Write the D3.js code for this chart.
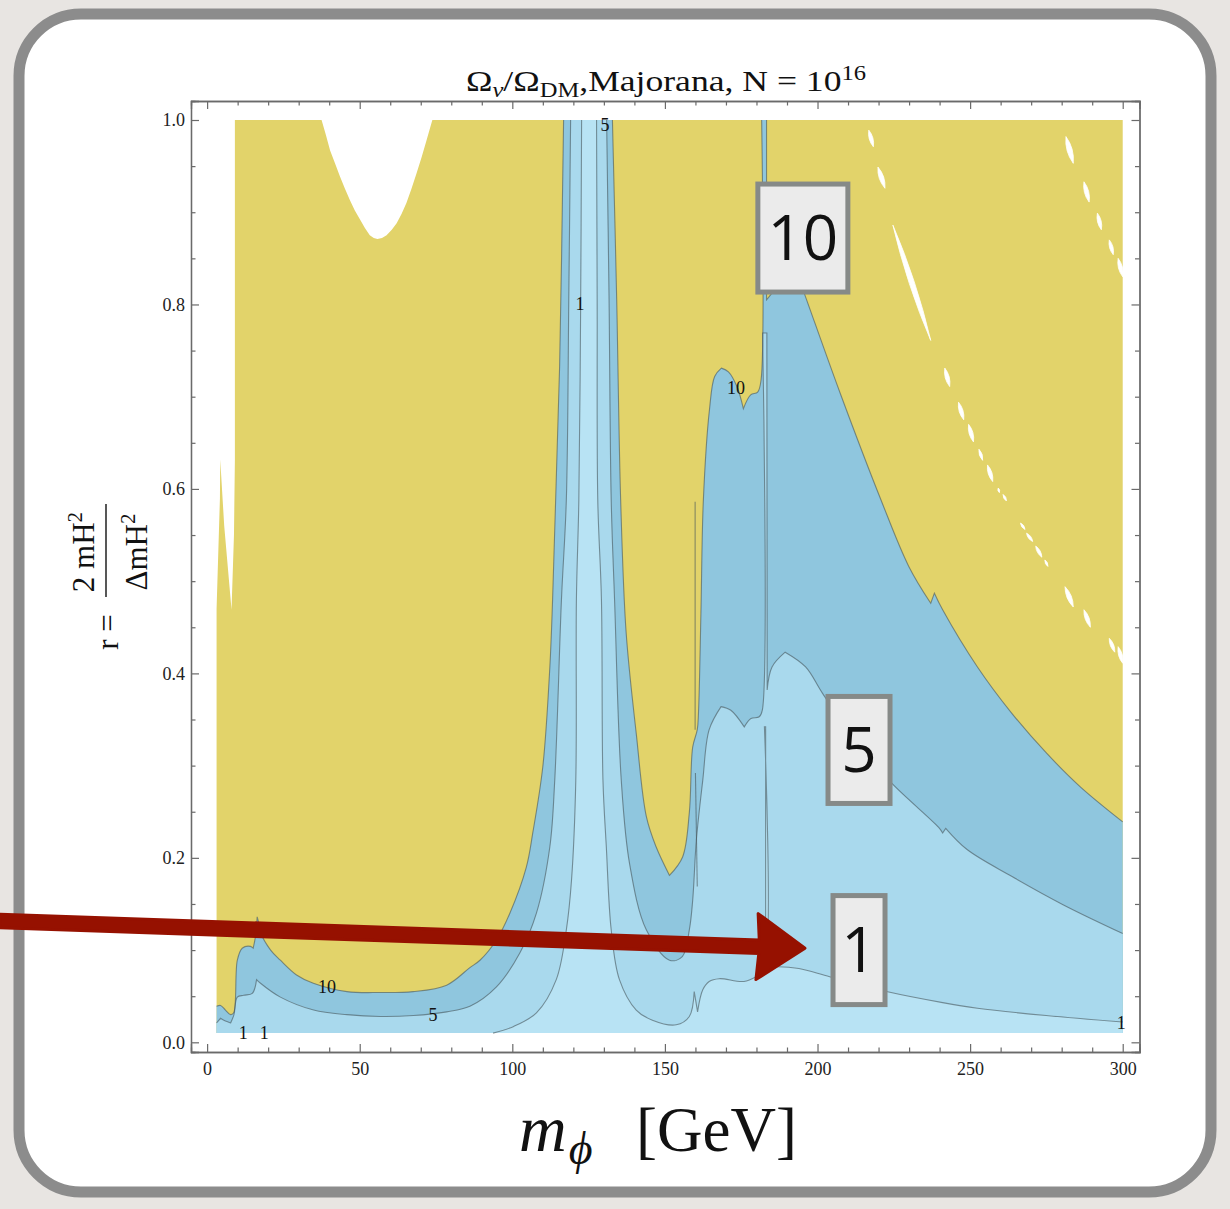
<!DOCTYPE html>
<html><head><meta charset="utf-8">
<script src="https://cdn.jsdelivr.net/npm/d3@7"></script>
<style>html,body{margin:0;padding:0;background:#e7e4e1;} svg{display:block}</style>
</head><body>
<svg id="chart" width="1230" height="1209"></svg>
<script>
// ---------------- data (m_phi in GeV, r) ----------------
const xTicks = [0, 50, 100, 150, 200, 250, 300];
const yTicks = [0.0, 0.2, 0.4, 0.6, 0.8, 1.0];
const xMinorTicks = d3.range(0, 301, 10);
const yMinorTicks = d3.range(0, 1.0001, 0.05);
const domainX = [3.1, 300];
const domainR = [0.01, 1.0];

// region where the ratio is defined (filled yellow = above 10)
const definedRegion = [[3.1,0.01],[3.1,0.47],[4.2,0.59],[4.3,0.632],[5.6,0.56],[8.0,0.469],[8.8,0.55],[9.1,0.632],[9.1,1.0],
  [37.5,1.0],[38.9,0.984],[40.3,0.967],[41.9,0.953],[43.5,0.939],[45.1,0.926],[46.8,0.913],[48.4,0.902],[50.1,0.892],[51.7,0.883],
  [53.3,0.875],[54.6,0.872],[55.8,0.871],[57.3,0.872],[58.8,0.875],[60.5,0.881],[62.1,0.888],[63.7,0.898],[65.3,0.910],[66.9,0.925],
  [68.6,0.942],[70.3,0.960],[71.9,0.978],[73.8,1.0],[300,1.0],[300,0.01]];

// contour Ω/Ω_DM = 10
const contour10 = [[3.1,0.039],[4.4,0.040],[6.0,0.035],[7.7,0.030],[8.7,0.032],[9.9,0.089],[11.5,0.102],[14.2,0.104],[15.1,0.102],
  [15.9,0.116],[16.4,0.136],[16.8,0.131],[17.5,0.119],[20.8,0.100],[24.0,0.089],[29.3,0.073],[34.8,0.064],[45.8,0.055],[56.7,0.054],
  [67.5,0.055],[78.5,0.062],[86.1,0.081],[89.4,0.089],[94.8,0.111],[99.2,0.140],[104.6,0.190],[106.7,0.227],[110.0,0.299],
  [112.3,0.407],[113.2,0.480],[114.2,0.588],[115.5,0.733],[116.8,1.0],
  [132.8,1.0],[134.2,0.805],[135.5,0.588],[137.3,0.444],[140.6,0.335],[143.9,0.245],[147.1,0.212],[151.5,0.181],[155.8,0.201],
  [158.0,0.249],[159.1,0.320],[160.6,0.339],[161.0,0.357],[161.8,0.465],[162.6,0.588],[164.6,0.686],[166.3,0.722],[168.5,0.731],
  [170.8,0.727],[173.6,0.711],[175.7,0.687],[178.1,0.702],[180.4,0.705],[181.5,0.718],[181.7,1.0],[183.3,1.0],[183.3,0.805],
  [185.8,0.816],[190.0,0.846],[194.0,0.827],[196.1,0.808],[207.4,0.704],[220.8,0.588],[229.9,0.516],[237.1,0.476],[238.3,0.487],
  [241.0,0.469],[252.4,0.407],[263.6,0.357],[274.9,0.314],[286.1,0.277],[300,0.239]];

// contour Ω/Ω_DM = 5
const contour5 = [[3.1,0.021],[4.4,0.026],[6.0,0.023],[7.7,0.021],[8.8,0.030],[9.9,0.049],[12.0,0.051],[14.8,0.053],[16.2,0.068],
  [17.5,0.064],[24.0,0.049],[34.9,0.035],[45.8,0.030],[56.7,0.028],[67.6,0.029],[78.5,0.033],[86.1,0.039],[94.8,0.060],[102.5,0.097],
  [107.9,0.140],[112.3,0.212],[113.9,0.284],[116.1,0.480],[117.7,0.588],[118.5,0.805],[119.1,1.0],
  [130.9,1.0],[131.7,0.805],[132.4,0.588],[133.5,0.480],[135.7,0.284],[138.4,0.194],[143.9,0.122],[151.5,0.089],[155.7,0.093],
  [158.0,0.122],[159.1,0.154],[160.3,0.219],[162.4,0.284],[164.5,0.339],[168.4,0.364],[171.6,0.360],[176.0,0.342],[178.2,0.351],
  [180.9,0.353],[181.9,0.360],[182.0,0.769],[183.4,0.769],[183.5,0.382],[185.1,0.407],[189.4,0.423],[196.1,0.407],[201.7,0.378],
  [213.6,0.322],[224.3,0.281],[239.7,0.233],[241.0,0.227],[242.0,0.232],[249.0,0.209],[263.6,0.180],[280.6,0.149],[300,0.118]];

// contour Ω/Ω_DM = 1
const contour1 = [[93.7,0.01],[100.3,0.017],[107.9,0.032],[114.4,0.068],[117.7,0.122],[119.4,0.176],[120.8,0.284],[121.0,0.480],
  [121.8,0.588],[122.4,0.805],[122.7,1.0],
  [127.6,1.0],[127.8,0.805],[128.0,0.588],[129.2,0.480],[129.7,0.284],[130.8,0.212],[132.4,0.122],[135.1,0.068],[140.6,0.035],
  [145.9,0.024],[153.7,0.019],[158.0,0.028],[159.6,0.055],[160.7,0.033],[162.4,0.057],[164.5,0.066],[167.8,0.069],[175.9,0.066],
  [180.9,0.073],[182.5,0.076],[182.6,0.342],[183.0,0.342],[183.0,0.081],[187.1,0.082],[193.9,0.080],[204.0,0.071],[222.6,0.055],
  [241.0,0.043],[252.4,0.037],[274.9,0.029],[300,0.022]];

// isolated thin contour pieces near m_phi = 160 GeV
const extraLines = [[[159.9,0.586],[159.9,0.339]], [[160.0,0.292],[160.6,0.169]]];

// undefined (white) streaks in the upper right: [x1, r1, x2, r2]
const whiteStreaks = [[216.8,0.989,218.3,0.971],[219.8,0.949,222.1,0.926],[224.7,0.886,237.1,0.761],[241.7,0.731,243.3,0.711],
  [246.2,0.694,247.9,0.675],[249.5,0.670,251.1,0.651],[252.9,0.643,254.1,0.631],[255.7,0.626,257.4,0.608],[259.2,0.601,259.6,0.596],
  [260.8,0.594,261.9,0.587],[266.5,0.563,268.0,0.556],[268.5,0.552,270.5,0.543],[271.5,0.538,273.5,0.526],[274.5,0.523,275.5,0.516],
  [281.1,0.494,283.8,0.472],[287.3,0.469,289.4,0.450],[295.6,0.438,297.4,0.423],[298.5,0.429,300,0.411],
  [281.4,0.982,283.8,0.953],[287.3,0.933,289.0,0.911],[291.7,0.899,293.0,0.881],[295.6,0.870,296.9,0.854],[298.5,0.850,300,0.830]];

// contour labels
const labelText = ["10","10","5","5","1","1","1","1"];
const labelX    = [173.3, 39.3, 74.0, 130.4, 122.2, 11.8, 18.7, 299.5];
const labelR    = [0.709, 0.060, 0.030, 0.995, 0.800, 0.010, 0.010, 0.021];

// annotations (boxed level markers + arrow)
const annotText = ["10","5","1"];
const annotX    = [195.2, 213.6, 213.6];
const annotR    = [0.872, 0.317, 0.100];
const arrowStart = [-67.9, 0.1315];
const arrowTip   = [195.9, 0.102];

// ---------------- drawing ----------------
const svg = d3.select("#chart");
const serif = "'Liberation Serif','Times New Roman',serif";
const col = {yellow:"#e2d36a", mid:"#8fc6de", light:"#a9d9ed", lightest:"#b8e3f4"};
const annotSize = {"10":[90,108], "5":[62,107], "1":[52,109]};

// outer rounded card
svg.append("rect").attr("x",0).attr("y",0).attr("width",1230).attr("height",1209).attr("fill","#e8e5e2");
svg.append("rect").attr("x",19).attr("y",14).attr("width",1192).attr("height",1178).attr("rx",62).attr("ry",62)
  .attr("fill","#ffffff").attr("stroke","#8c8c8c").attr("stroke-width",11);

const x = d3.scaleLinear().domain([-5.28, 305.5]).range([191, 1139.5]);
const y = d3.scaleLinear().domain([-0.0105, 1.0206]).range([1052, 101]);
const line = d3.line().x(d => x(d[0])).y(d => y(d[1]));
const smoothGen = d3.line().x(d => x(d[0])).y(d => y(d[1])).curve(d3.curveCatmullRom.alpha(0.5));

// keep sharp corners sharp: split a run at vertices that turn by more than ~80 degrees
function smooth(pts) {
  const parts = []; let cur = [pts[0]];
  for (let i = 1; i < pts.length; i++) {
    cur.push(pts[i]);
    if (i < pts.length - 1) {
      const a = pts[i-1], b = pts[i], c = pts[i+1];
      const v1 = [x(b[0])-x(a[0]), y(b[1])-y(a[1])], v2 = [x(c[0])-x(b[0]), y(c[1])-y(b[1])];
      const cs = (v1[0]*v2[0] + v1[1]*v2[1]) / ((Math.hypot(...v1) * Math.hypot(...v2)) || 1);
      if (cs < 0.2) { parts.push(cur); cur = [pts[i]]; }
    }
  }
  parts.push(cur);
  return parts.map((p, i) => { const s = smoothGen(p); return i ? "L" + s.slice(1) : s; }).join("");
}

// contour pieces: split off the parts lying on the plot-range boundary
const eps = 1e-6;
function onEdge(a, b) {
  return (a[1] >= domainR[1]-eps && b[1] >= domainR[1]-eps) || (a[1] <= domainR[0]+eps && b[1] <= domainR[0]+eps) ||
         (a[0] >= domainX[1]-eps && b[0] >= domainX[1]-eps) || (a[0] <= domainX[0]+eps && b[0] <= domainX[0]+eps);
}
function runs(pts) {
  const out = []; let cur = [pts[0]];
  for (let i = 1; i < pts.length; i++) {
    if (onEdge(pts[i-1], pts[i])) { if (cur.length > 1) out.push(cur); cur = [pts[i]]; }
    else cur.push(pts[i]);
  }
  if (cur.length > 1) out.push(cur);
  return out;
}
function regionPath(c) {
  const rs = runs(c);
  let s = rs.map((r, i) => { const p = smooth(r); return i ? "L" + p.slice(1) : p; }).join("");
  s += "L" + x(domainX[1]) + "," + y(domainR[0]) + "L" + x(c[0][0]) + "," + y(domainR[0]) + "Z";
  return s;
}

const plot = svg.append("g");
plot.append("path").attr("d", line(definedRegion) + "Z").attr("fill", col.yellow);
plot.append("path").attr("d", regionPath(contour10)).attr("fill", col.mid);
plot.append("path").attr("d", regionPath(contour5)).attr("fill", col.light);
plot.append("path").attr("d", regionPath(contour1)).attr("fill", col.lightest);

// white streaks drawn as thin tapered lenses
plot.selectAll("path.streak").data(whiteStreaks).join("path").attr("class","streak")
  .attr("d", d => {
    const ax = x(d[0]), ay = y(d[1]), bx = x(d[2]), by = y(d[3]);
    const L = Math.hypot(bx-ax, by-ay) || 1, nx = -(by-ay)/L, ny = (bx-ax)/L;
    const w = Math.min(2.6, 0.5 + L * 0.08);
    const mx = (ax+bx)/2, my = (ay+by)/2;
    return `M${ax},${ay}Q${mx+nx*w*2},${my+ny*w*2} ${bx},${by}Q${mx-nx*w*2},${my-ny*w*2} ${ax},${ay}Z`;
  })
  .attr("fill","#ffffff").attr("stroke","#ffffff").attr("stroke-width",0.8);

const allRuns = [].concat(runs(contour10), runs(contour5), runs(contour1));
plot.selectAll("path.cl").data(allRuns).join("path").attr("class","cl")
  .attr("d", smooth).attr("fill","none").attr("stroke","rgba(70,85,90,0.6)").attr("stroke-width",1.1);
plot.selectAll("path.ex").data(extraLines).join("path").attr("class","ex")
  .attr("d", line).attr("fill","none").attr("stroke","rgba(70,85,90,0.6)").attr("stroke-width",1.1);

plot.selectAll("text.cl").data(labelText).join("text").attr("class","cl")
  .attr("x", (d,i) => x(labelX[i])).attr("y", (d,i) => y(labelR[i]) + 6)
  .attr("text-anchor","middle").style("font-family", serif).style("font-size","18px").attr("fill","#111").text(d => d);

// frame + ticks
const frame = svg.append("g").attr("font-family", serif);
frame.append("g").attr("transform","translate(0,1052)")
  .call(d3.axisBottom(x).tickValues(xTicks).tickSize(-8).tickPadding(10).tickFormat(d3.format("d")));
frame.append("g").attr("transform","translate(0,1052)")
  .call(d3.axisBottom(x).tickValues(xMinorTicks.filter(v => v % 50)).tickSize(-4.5).tickFormat(""));
frame.append("g").attr("transform","translate(0,101)")
  .call(d3.axisTop(x).tickValues(xTicks).tickSize(-8).tickFormat(""));
frame.append("g").attr("transform","translate(0,101)")
  .call(d3.axisTop(x).tickValues(xMinorTicks.filter(v => v % 50)).tickSize(-4.5).tickFormat(""));
frame.append("g").attr("transform","translate(191,0)")
  .call(d3.axisLeft(y).tickValues(yTicks).tickSize(-8).tickPadding(6).tickFormat(d3.format(".1f")));
frame.append("g").attr("transform","translate(191,0)")
  .call(d3.axisLeft(y).tickValues(yMinorTicks.filter((v,i) => i % 4)).tickSize(-4.5).tickFormat(""));
frame.append("g").attr("transform","translate(1139.5,0)")
  .call(d3.axisRight(y).tickValues(yTicks).tickSize(-8).tickFormat(""));
frame.append("g").attr("transform","translate(1139.5,0)")
  .call(d3.axisRight(y).tickValues(yMinorTicks.filter((v,i) => i % 4)).tickSize(-4.5).tickFormat(""));
frame.selectAll(".domain").attr("stroke","#6a6a6a").attr("stroke-width",1.3);
frame.selectAll(".tick line").attr("stroke","#6a6a6a").attr("stroke-width",1.2);
frame.selectAll(".tick text").style("font-family", serif).style("font-size","18px").attr("fill","#222");

// title
const title = svg.append("text").attr("x", 666).attr("y", 91).attr("text-anchor","middle")
  .style("font-family", serif).style("font-size","29px").attr("fill","#111")
  .attr("textLength", 400).attr("lengthAdjust","spacingAndGlyphs");
title.append("tspan").text("Ω");
title.append("tspan").attr("dy", 6).style("font-size","20px").style("font-style","italic").text("ν");
title.append("tspan").attr("dy", -6).text("/Ω");
title.append("tspan").attr("dy", 6).style("font-size","20px").text("DM");
title.append("tspan").attr("dy", -6).text(",Majorana, N = 10");
title.append("tspan").attr("dy", -11).style("font-size","20px").text("16");

// y label
const yl = svg.append("g").style("font-family", serif).style("font-size","31px").attr("fill","#111");
yl.append("text").attr("transform","translate(118,632) rotate(-90)").attr("text-anchor","middle").text("r =");
const num = yl.append("text").attr("transform","translate(94,552) rotate(-90)").attr("text-anchor","middle");
num.append("tspan").text("2 mH");
num.append("tspan").attr("dy",-12).style("font-size","21px").text("2");
const den = yl.append("text").attr("transform","translate(147,552) rotate(-90)").attr("text-anchor","middle");
den.append("tspan").text("ΔmH");
den.append("tspan").attr("dy",-12).style("font-size","21px").text("2");
yl.append("line").attr("x1",106).attr("x2",106).attr("y1",504).attr("y2",597).attr("stroke","#111").attr("stroke-width",1.4);

// x label
const xl = svg.append("text").attr("x", 519).attr("y", 1151).style("font-family", serif).style("font-size","66px").attr("fill","#111");
xl.append("tspan").style("font-style","italic").text("m");
xl.append("tspan").attr("dy", 13).attr("dx", 2).style("font-style","italic").style("font-size","46px").text("ϕ");
xl.append("tspan").attr("x", 636).attr("dy", -13).style("font-size","63px").text("[GeV]");

// annotation boxes
const ann = svg.append("g");
ann.selectAll("rect").data(annotText).join("rect")
  .attr("x", (d,i) => x(annotX[i]) - annotSize[d][0]/2).attr("y", (d,i) => y(annotR[i]) - annotSize[d][1]/2)
  .attr("width", d => annotSize[d][0]).attr("height", d => annotSize[d][1])
  .attr("fill","#ebebeb").attr("stroke","#868a88").attr("stroke-width",5);
ann.selectAll("text").data(annotText).join("text")
  .attr("x", (d,i) => x(annotX[i])).attr("y", (d,i) => y(annotR[i]) + 22)
  .attr("text-anchor","middle").style("font-family","'Open Sans',sans-serif").style("font-size","62px").attr("fill","#111").text(d => d);

// arrow
const p0 = [x(arrowStart[0]), y(arrowStart[1])], p1 = [x(arrowTip[0]), y(arrowTip[1])];
const L = Math.hypot(p1[0]-p0[0], p1[1]-p0[1]);
const u = [(p1[0]-p0[0])/L, (p1[1]-p0[1])/L], n = [-u[1], u[0]];
const headLen = 48, headHalf = 33, shaftHalf = 6.8;
const base = [p1[0]-headLen*u[0], p1[1]-headLen*u[1]];
const arrowPts = [
  [p0[0]+shaftHalf*n[0], p0[1]+shaftHalf*n[1]],
  [base[0]+2*u[0]+shaftHalf*n[0], base[1]+2*u[1]+shaftHalf*n[1]],
  [base[0]+headHalf*n[0], base[1]+headHalf*n[1]],
  [p1[0], p1[1]],
  [base[0]-headHalf*n[0], base[1]-headHalf*n[1]],
  [base[0]+2*u[0]-shaftHalf*n[0], base[1]+2*u[1]-shaftHalf*n[1]],
  [p0[0]-shaftHalf*n[0], p0[1]-shaftHalf*n[1]]
];
svg.append("path").attr("d", d3.line()(arrowPts) + "Z").attr("fill","#961100")
  .attr("stroke","#961100").attr("stroke-width",3).attr("stroke-linejoin","round");
</script>
</body></html>
